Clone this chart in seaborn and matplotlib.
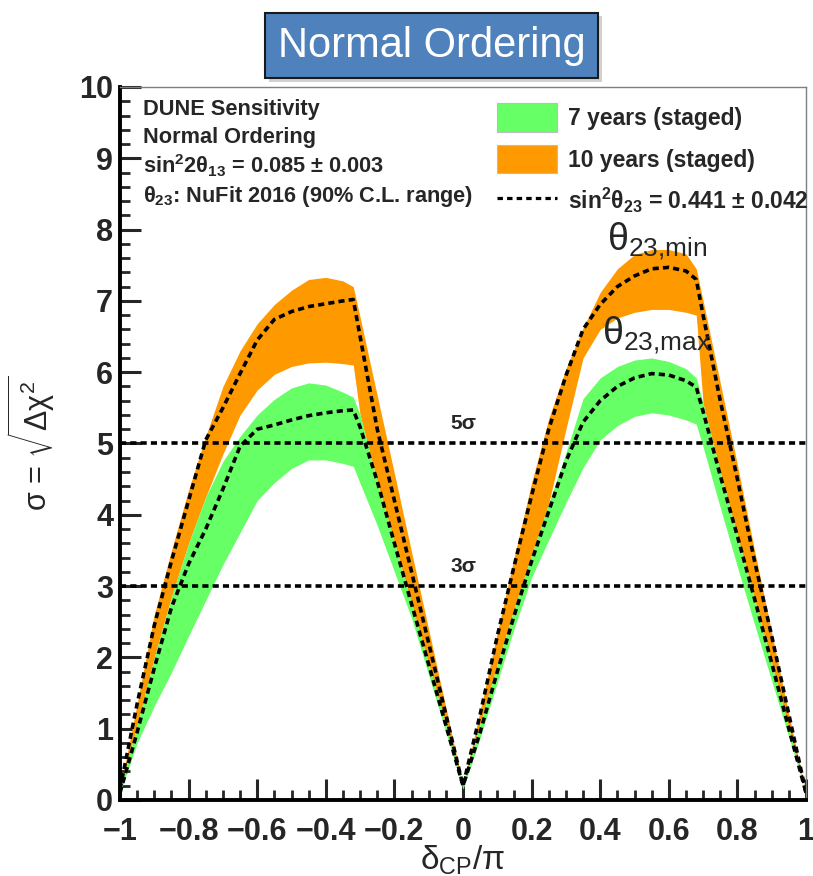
import numpy as np
import pandas as pd
import matplotlib
matplotlib.use("Agg")
import matplotlib.pyplot as plt
import seaborn as sns
from matplotlib.patches import Patch, Rectangle
from matplotlib.lines import Line2D

# ---------------- data ----------------
delta_cp = [-1, -0.95, -0.9, -0.85, -0.8, -0.75, -0.7, -0.65, -0.6, -0.55, -0.5, -0.45, -0.4, -0.35,
            -0.32, -0.3, -0.25, -0.2, -0.15, -0.1, -0.05, 0,
            0.05, 0.1, 0.15, 0.2, 0.25, 0.3, 0.35, 0.4, 0.45, 0.5, 0.55, 0.6, 0.65,
            0.68, 0.7, 0.75, 0.8, 0.85, 0.9, 0.95, 1]

ten_upper = [0.15, 1.35, 2.6, 3.5, 4.35, 5.1, 5.8, 6.3, 6.68, 6.95, 7.15, 7.3, 7.33, 7.28,
             7.2, 6.77, 5.67, 4.58, 3.48, 2.39, 1.3, 0.2,
             1.25, 2.35, 3.42, 4.45, 5.35, 6.05, 6.62, 7.12, 7.45, 7.65, 7.72, 7.72, 7.66,
             7.45, 7.0, 5.85, 4.7, 3.5, 2.35, 1.2, 0.1]
ten_lower = [0.15, 1.05, 2.0, 2.85, 3.6, 4.25, 4.85, 5.4, 5.75, 5.97, 6.08, 6.13, 6.14, 6.12,
             6.1, 5.4, 4.46, 3.61, 2.75, 1.9, 1.05, 0.2,
             1.07, 1.91, 2.7, 3.44, 4.16, 5.2, 6.2, 6.6, 6.76, 6.84, 6.88, 6.88, 6.84,
             6.8, 5.56, 4.6, 3.7, 2.82, 1.91, 1.0, 0.1]
ten_central = [0.15, 1.35, 2.45, 3.35, 4.2, 5.05, 5.5, 5.98, 6.45, 6.74, 6.85, 6.92, 6.96, 7.0,
               7.02, 6.5, 5.2, 4.2, 3.2, 2.2, 1.2, 0.2,
               1.2, 2.3, 3.3, 4.27, 5.2, 5.95, 6.6, 6.95, 7.2, 7.35, 7.45, 7.47, 7.42,
               7.3, 6.8, 5.6, 4.5, 3.35, 2.3, 1.2, 0.1]

seven_upper = [0.15, 1.05, 2.0, 2.85, 3.6, 4.25, 4.75, 5.1, 5.4, 5.62, 5.78, 5.85, 5.82, 5.72,
               5.65, 5.4, 4.46, 3.61, 2.75, 1.9, 1.05, 0.2,
               1.07, 1.91, 2.7, 3.44, 4.16, 4.87, 5.63, 5.92, 6.08, 6.17, 6.2, 6.15, 6.05,
               5.92, 5.56, 4.6, 3.7, 2.82, 1.91, 1.0, 0.1]
seven_lower = [0.1, 0.8, 1.32, 1.79, 2.3, 2.8, 3.3, 3.75, 4.2, 4.45, 4.65, 4.77, 4.77, 4.72,
               4.68, 4.44, 3.85, 3.2, 2.55, 1.75, 0.95, 0.15,
               0.87, 1.65, 2.42, 3.12, 3.65, 4.17, 4.66, 5.05, 5.25, 5.38, 5.43, 5.4, 5.33,
               5.27, 4.95, 4.1, 3.27, 2.46, 1.67, 0.88, 0.1]
seven_central = [0.1, 0.95, 1.85, 2.7, 3.31, 3.8, 4.36, 4.96, 5.2, 5.26, 5.33, 5.39, 5.43, 5.46,
                 5.47, 5.23, 4.47, 3.6, 2.75, 1.9, 1.05, 0.2,
                 0.95, 1.8, 2.6, 3.35, 4.05, 4.75, 5.3, 5.6, 5.8, 5.92, 5.98, 5.96, 5.88,
                 5.79, 5.45, 4.55, 3.7, 2.82, 1.92, 1.0, 0.1]

sigma_levels = [3, 5]
sigma_labels = ["3σ", "5σ"]
x_ticks = [-1, -0.8, -0.6, -0.4, -0.2, 0, 0.2, 0.4, 0.6, 0.8, 1]
x_tick_labels = ["\u22121", "\u22120.8", "\u22120.6", "\u22120.4", "\u22120.2", "0",
                 "0.2", "0.4", "0.6", "0.8", "1"]
y_ticks = list(range(0, 11))

legend_labels = ["7 years (staged)", "10 years (staged)",
                 r"sin$^{\mathbf{2}}$θ$_{\mathbf{23}}$ = 0.441 ± 0.042"]
info_lines = ["DUNE Sensitivity", "Normal Ordering",
              r"sin$^{\mathbf{2}}$2θ$_{\mathbf{13}}$ = 0.085 ± 0.003",
              r"θ$_{\mathbf{23}}$: NuFit 2016 (90% C.L. range)"]

GREEN = "#66FF66"
ORANGE = "#FF9900"

# ---------------- style ----------------
sns.set_style("ticks")
plt.rcParams["font.family"] = ["Liberation Sans", "DejaVu Sans"]
plt.rcParams["mathtext.fontset"] = "custom"
plt.rcParams["mathtext.rm"] = "Liberation Sans"
plt.rcParams["mathtext.it"] = "Liberation Sans:italic"
plt.rcParams["mathtext.bf"] = "Liberation Sans:bold"
plt.rcParams["axes.unicode_minus"] = True

df = pd.DataFrame({"x": delta_cp, "ten_c": ten_central, "seven_c": seven_central})

fig = plt.figure(figsize=(8.13, 8.76), dpi=100)
ax = fig.add_axes([0.1476, 0.0868, 0.8438, 0.8139])

ax.fill_between(delta_cp, ten_lower, ten_upper, color=ORANGE, lw=0)
ax.fill_between(delta_cp, seven_lower, seven_upper, color=GREEN, lw=0)

LW = 2.6
dash = (1.7, 1.15)
sns.lineplot(data=df, x="x", y="ten_c", ax=ax, color="black", lw=LW,
             linestyle=(0, dash), sort=False, estimator=None)
sns.lineplot(data=df, x="x", y="seven_c", ax=ax, color="black", lw=LW,
             linestyle=(0, dash), sort=False, estimator=None)

for lev, lab in zip(sigma_levels, sigma_labels):
    ax.axhline(lev, color="black", lw=LW, linestyle=(0, dash))
    ax.text(0, lev + 0.14, lab, ha="center", va="bottom", fontsize=15, fontweight="bold")

ax.set_xlim(-1, 1)
ax.set_ylim(0, 10)
ax.set_xticks(x_ticks)
ax.set_xticklabels(x_tick_labels)
ax.set_yticks(y_ticks)
ax.set_xticks(np.arange(-1, 1.0001, 0.05), minor=True)
ax.set_yticks(np.arange(0, 10.0001, 0.2), minor=True)
for lab in ax.get_xticklabels() + ax.get_yticklabels():
    lab.set_fontweight("bold")
ax.tick_params(axis="both", which="major", direction="in", length=15, width=2.2,
               labelsize=22, top=False, right=False)
ax.tick_params(axis="x", which="major", pad=12)
ax.tick_params(axis="y", which="major", pad=5)
ax.tick_params(axis="both", which="minor", direction="in", length=7.5, width=2.0,
               top=False, right=False)

for s in ["left", "bottom"]:
    ax.spines[s].set_linewidth(2.8)
    ax.spines[s].set_color("black")
for s in ["top", "right"]:
    ax.spines[s].set_linewidth(1.0)
    ax.spines[s].set_color("#7f7f7f")

ax.set_xlabel(r"$\mathrm{\delta}_{\mathrm{CP}}/\mathrm{\pi}$", fontsize=24, labelpad=-2)
ax.set_ylabel(r"$\mathrm{\sigma}$ = $\sqrt{\Delta\mathrm{\chi}^2}$", fontsize=22, labelpad=16)

# info text
for i, line in enumerate(info_lines):
    ax.text(0.034, 0.969 - i * 0.040 - (0.003 if i == 3 else 0), line, transform=ax.transAxes,
            ha="left", va="center", fontsize=15.7, fontweight="bold")

# annotations
ax.text(0.42, 7.84, r"$\mathrm{\theta}_{\mathrm{23{,}min}}$", fontsize=27, ha="left", va="center")
ax.text(0.405, 6.52, r"$\mathrm{\theta}_{\mathrm{23{,}max}}$", fontsize=27, ha="left", va="center")

# legend
handles = [Patch(facecolor=GREEN, edgecolor="#bbbbbb", lw=0.8),
           Patch(facecolor=ORANGE, edgecolor="#bbbbbb", lw=0.8),
           Line2D([0], [0], color="black", lw=2.3, linestyle=(0, (1.7, 1.3)))]
leg = ax.legend(handles, legend_labels, loc="upper left", bbox_to_anchor=(0.52, 1.006),
                frameon=False, handlelength=2.6, handleheight=1.55, labelspacing=0.55,
                handletextpad=0.5, prop={"size": 16.5, "weight": "bold"})

# title box with soft shadow
fig.patches.append(Rectangle((269 / 813, 1 - 82 / 876), 333 / 813, 66 / 876,
                             transform=fig.transFigure, facecolor="#9a9a9a",
                             edgecolor="none", alpha=0.45, zorder=0))
fig.text(0.531, 0.9475, "Normal Ordering", fontsize=30, color="white", ha="center", va="center",
         zorder=2,
         bbox=dict(boxstyle="square,pad=0.3", facecolor="#4F81BD", edgecolor="#1a1a1a", lw=1.5))

fig.savefig("out.png", dpi=100)
